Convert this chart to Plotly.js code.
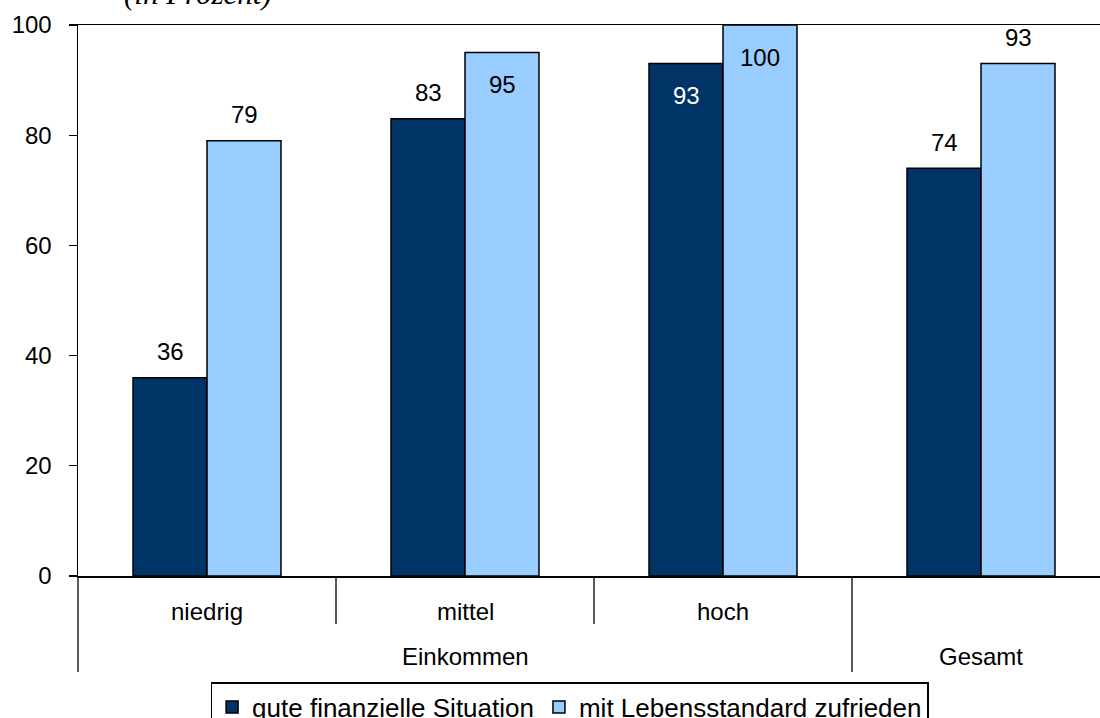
<!DOCTYPE html>
<html>
<head>
<meta charset="utf-8">
<script src="https://cdn.plot.ly/plotly-3.0.1.min.js"></script>
<style>
  html, body { margin: 0; padding: 0; background: #fff; overflow: hidden; }
  #chart { width: 1100px; height: 718px; }
</style>
</head>
<body>
<div id="chart"></div>
<script>
// ---- data ----
const categories = ['niedrig', 'mittel', 'hoch', 'Gesamt'];
const groupLabel = 'Einkommen';
const seriesNames = ['gute finanzielle Situation', 'mit Lebensstandard zufrieden'];
const guteSituation = [36, 83, 93, 74];
const zufrieden = [79, 95, 100, 93];
const yTicks = [0, 20, 40, 60, 80, 100];
const titleText = '(in Prozent)';

// ---- style config ----
const colors = ['#003366', '#99CCFF'];
const labelInside = [[false, false, true, false], [false, true, true, false]];
const FONT = 'Arial, "Liberation Sans", sans-serif';
const FS = 24;

const series = [guteSituation, zufrieden];
const traces = series.map((vals, i) => ({
  type: 'bar',
  name: seriesNames[i],
  x: categories,
  y: vals,
  marker: { color: colors[i], line: { color: '#000', width: 1.5 } },
  hoverinfo: 'x+y+name'
}));

const annotations = [];
// data labels
series.forEach((vals, i) => {
  vals.forEach((v, j) => {
    const inside = labelInside[i][j];
    annotations.push({
      x: categories[j], xref: 'x', y: v, yref: 'y',
      text: String(v), showarrow: false,
      xshift: i === 0 ? -37 : 37,
      yshift: inside ? -32 : 26,
      yanchor: 'middle', xanchor: 'center',
      font: { family: FONT, size: FS, color: (inside && i === 0) ? '#fff' : '#000' }
    });
  });
});
// first-level category labels (Einkommen sub-groups)
categories.slice(0, 3).forEach(c => {
  annotations.push({
    x: c, xref: 'x', y: 0, yref: 'paper', yshift: -35,
    text: c, showarrow: false, yanchor: 'middle', xanchor: 'center',
    font: { family: FONT, size: FS, color: '#000' }
  });
});
// second-level labels
annotations.push({
  x: categories[1], xref: 'x', y: 0, yref: 'paper', yshift: -80,
  text: groupLabel, showarrow: false, yanchor: 'middle', xanchor: 'center',
  font: { family: FONT, size: FS, color: '#000' }
});
annotations.push({
  x: categories[3], xref: 'x', y: 0, yref: 'paper', yshift: -80,
  text: categories[3], showarrow: false, yanchor: 'middle', xanchor: 'center',
  font: { family: FONT, size: FS, color: '#000' }
});
// title (mostly cut off at the top)
annotations.push({
  x: 0.1174, xref: 'paper', y: 1.0563, yref: 'paper',
  text: '<i>' + titleText + '</i>', showarrow: false, yanchor: 'middle', xanchor: 'center',
  font: { family: '"Liberation Serif", "Times New Roman", serif', size: 31, color: '#000' }
});

const lineStyle = { color: '#000', width: 1.3 };
const shapes = [
  { type: 'line', xref: 'paper', yref: 'paper', x0: 0, x1: 0, y0: 0, y1: -0.1742, line: lineStyle },
  { type: 'line', xref: 'x', yref: 'paper', x0: 0.5, x1: 0.5, y0: 0, y1: -0.0871, line: lineStyle },
  { type: 'line', xref: 'x', yref: 'paper', x0: 1.5, x1: 1.5, y0: 0, y1: -0.0871, line: lineStyle },
  { type: 'line', xref: 'x', yref: 'paper', x0: 2.5, x1: 2.5, y0: 0, y1: -0.1742, line: lineStyle }
];

const layout = {
  width: 1100, height: 718,
  margin: { l: 78, r: 0, t: 25, b: 142, autoexpand: false },
  paper_bgcolor: '#fff', plot_bgcolor: '#fff',
  font: { family: FONT, size: FS, color: '#000' },
  barmode: 'group', bargap: 0.4264, bargroupgap: 0,
  showlegend: true,
  legend: {
    orientation: 'h', x: 0.481, xanchor: 'center', y: -0.1924, yanchor: 'top',
    bordercolor: '#000', borderwidth: 1.5, bgcolor: '#fff',
    font: { family: FONT, size: 26, color: '#000' },
    traceorder: 'normal'
  },
  xaxis: {
    type: 'category', categoryorder: 'array', categoryarray: categories,
    range: [-0.5, 3.4612], showline: true, mirror: true, linecolor: '#000', linewidth: 1.5,
    ticks: '', showticklabels: false, showgrid: false, zeroline: false, fixedrange: true
  },
  yaxis: {
    range: [0, 100], tickvals: yTicks, ticktext: yTicks.map(String),
    ticks: 'outside', ticklen: 8, tickwidth: 1.3, tickcolor: '#000',
    showline: true, linecolor: '#000', linewidth: 1.5,
    showgrid: false, zeroline: false, ticklabelstandoff: 12,
    tickfont: { family: FONT, size: FS, color: '#000' }, fixedrange: true
  },
  annotations: annotations,
  shapes: shapes
};

Plotly.newPlot('chart', traces, layout, { displayModeBar: false, staticPlot: true });
</script>
</body>
</html>
